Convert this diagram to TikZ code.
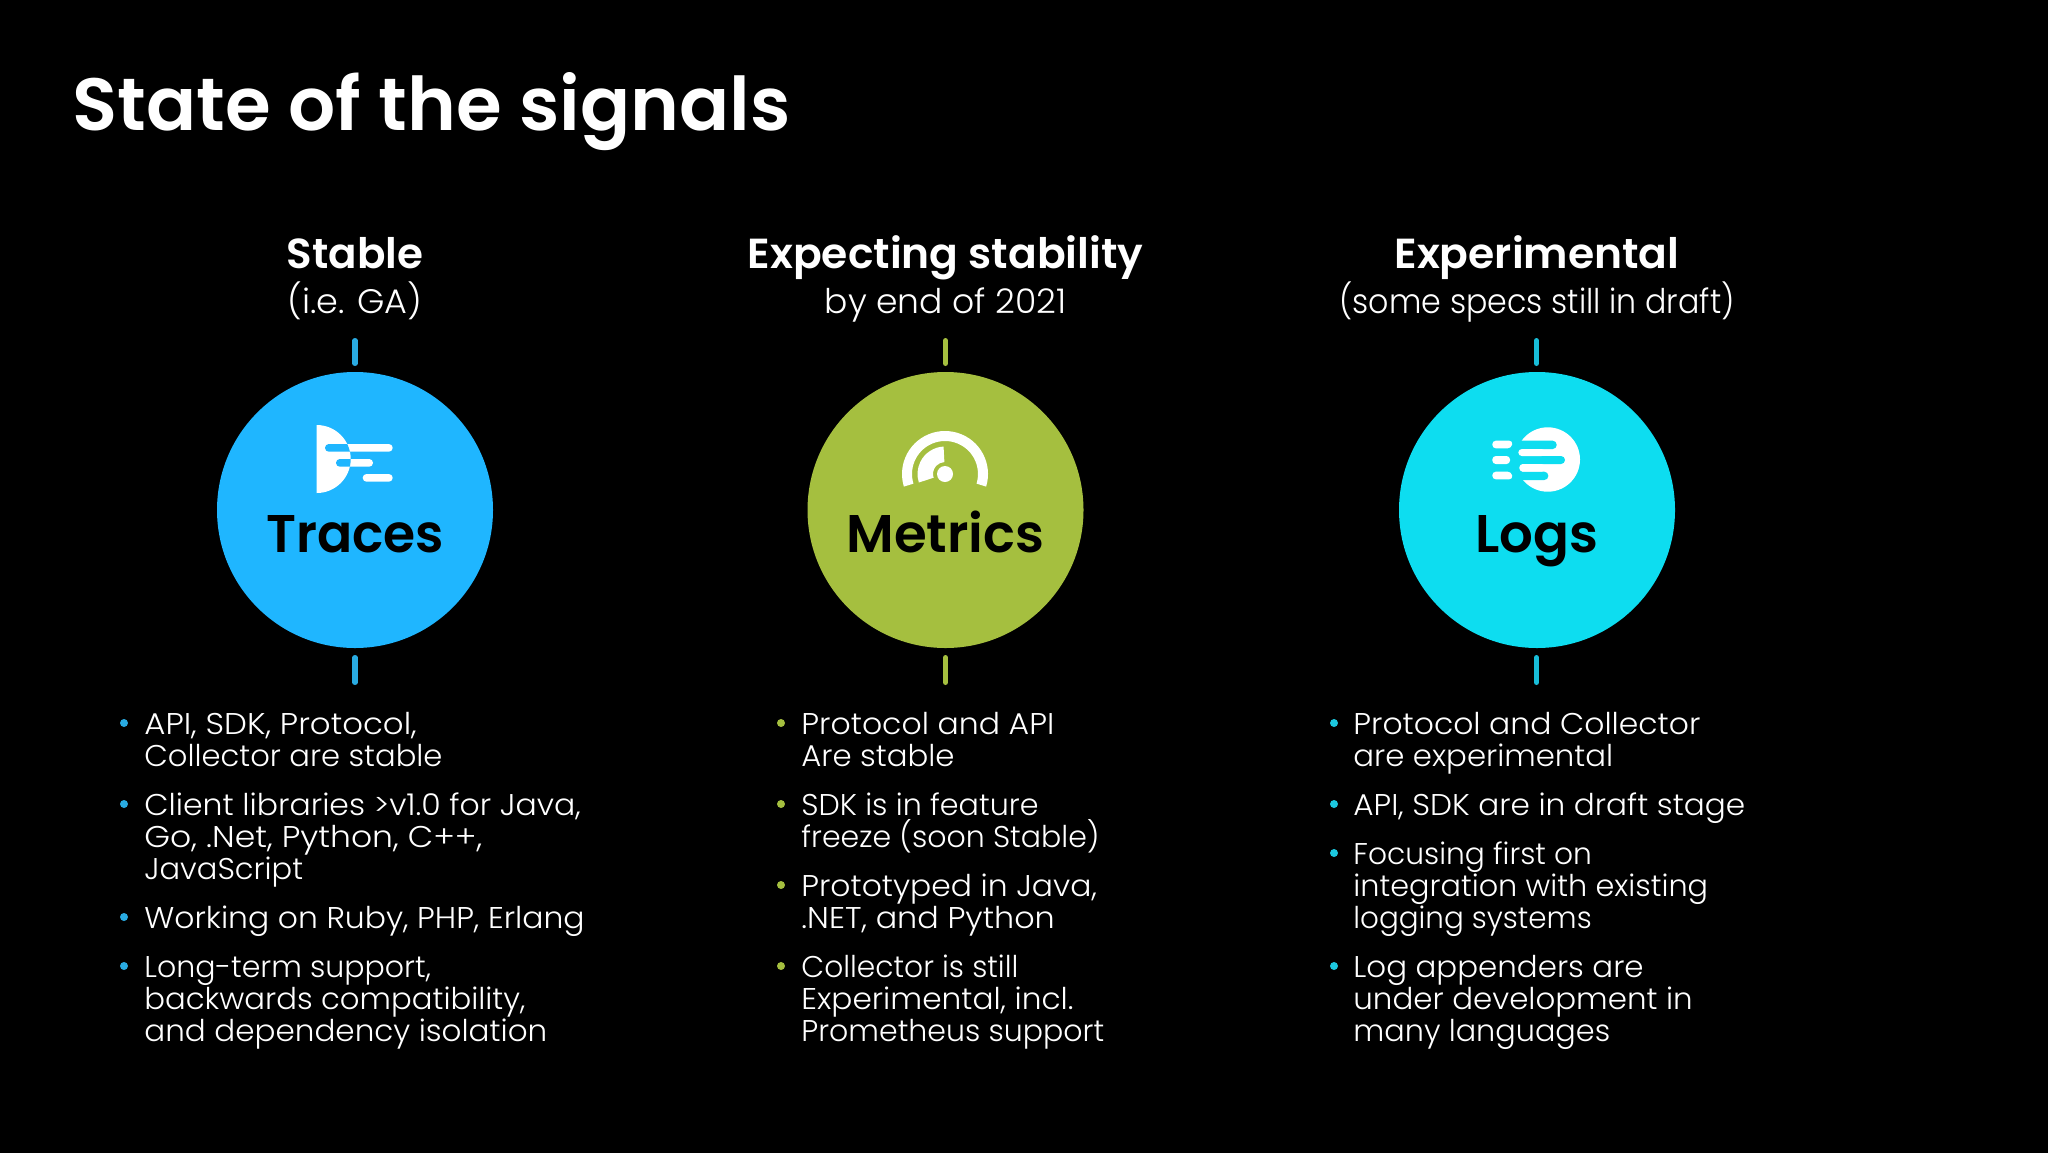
\documentclass[tikz,border=0pt]{standalone}
\usepackage{fontspec}
\setmainfont{Poppins Light}[BoldFont={Poppins SemiBold}]
\definecolor{tracesblue}{HTML}{1FB6FF}
\definecolor{metricsgreen}{HTML}{A5BF3F}
\definecolor{logscyan}{HTML}{0DDDF0}
\definecolor{bulblue}{HTML}{29ABE2}
\definecolor{bulcyan}{HTML}{1CC8E0}
\definecolor{logtick}{HTML}{18BDD8}
\tikzset{
  titletext/.style={anchor=base west,inner sep=0,text=white,font=\fontsize{37}{37}\selectfont\bfseries},
  headtext/.style={anchor=base,inner sep=0,text=white,font=\fontsize{21}{21}\selectfont\bfseries},
  subtext/.style={anchor=base,inner sep=0,text=white,font=\fontsize{17}{17}\selectfont},
  signal/.style={circle,inner sep=0,minimum size=138pt},
  signaltext/.style={anchor=base,inner sep=0,text=black,font=\fontsize{26.5}{26.5}\selectfont\bfseries},
  bulletline/.style={anchor=base west,inner sep=0,text=white,font=\fontsize{15}{16}\selectfont},
  dotmark/.style={circle,inner sep=0,minimum size=4pt},
  ticks/.style={line width=2.6pt,line cap=round},
}
\newcommand{\bul}[3]{\node[dotmark,fill=#1] at (#2,#3-11) {};}
\newcommand{\lin}[4]{\node[bulletline] at (#1,#2) {\scalebox{#3}[1]{#4}};}
\begin{document}
\begin{tikzpicture}[x=0.5pt,y=-0.5pt]
\useasboundingbox (0,0) rectangle (2048,1152);
\fill[black] (-6,-6) rectangle (2054,1158);
\node[titletext] (title) at (72,130) {State of the signals};

% headings
\node[headtext] (h1) at (355,268) {Stable};
\node[subtext] (s1) at (355,313) {\scalebox{1.03}[1]{(i.e. GA)}};
\node[headtext] (h2) at (945.5,268) {\scalebox{1.01}[1]{Expecting stability}};
\node[subtext] (s2) at (945.5,313) {\scalebox{1.016}[1]{by end of 2021}};
\node[headtext] (h3) at (1537,268) {\scalebox{1.01}[1]{Experimental}};
\node[subtext] (s3) at (1537,313) {\scalebox{0.932}[1]{(some specs still in draft)}};

% circles
\node[signal,fill=tracesblue] (traces) at (355,510) {};
\node[signal,fill=metricsgreen] (metrics) at (945.5,510) {};
\node[signal,fill=logscyan] (logs) at (1537,510) {};
\node[signaltext] (tracesl) at (355,552) {\scalebox{0.98}[1]{Traces}};
\node[signaltext] (metricsl) at (945.5,552) {Metrics};
\node[signaltext] (logsl) at (1537,552) {Logs};

% ticks
\draw[ticks,bulblue] (355,340.6) -- (355,363.4);
\draw[ticks,bulblue] (355,657.6) -- (355,682.4);
\draw[ticks,metricsgreen] (945.5,340.6) -- (945.5,363.4);
\draw[ticks,metricsgreen] (945.5,657.6) -- (945.5,682.4);
\draw[ticks,logtick] (1536.5,340.6) -- (1536.5,363.4);
\draw[ticks,logtick] (1536.5,657.6) -- (1536.5,682.4);

% traces icon
\begin{scope}
\fill[white] (316.7,425) arc[start angle=90,end angle=-90,x radius=34,y radius=-34] -- cycle;
\fill[white,rounded corners=1.9pt] (325,444) rectangle (392.7,451.7);
\fill[white,rounded corners=1.9pt] (336,459) rectangle (373,466.7);
\fill[white,rounded corners=1.9pt] (362.7,474) rectangle (392.7,481.7);
\clip (316.7,425) arc[start angle=90,end angle=-90,x radius=34,y radius=-34] -- cycle;
\fill[tracesblue,rounded corners=1.9pt] (325,444) rectangle (392.7,451.7);
\fill[tracesblue,rounded corners=1.9pt] (336,459) rectangle (373,466.7);
\end{scope}

% metrics icon
\fill[white] (945,474) circle[radius=8];
\fill[white] ({945+43*cos(-17)},{474+43*sin(17)}) arc[start angle=-17,end angle=197,x radius=43,y radius=-43]
  -- ({945+33*cos(197)},{474-33*sin(197)}) arc[start angle=197,end angle=-17,x radius=33,y radius=-33] -- cycle;
\fill[white] ({945+27.5*cos(93)},{474-27.5*sin(93)}) arc[start angle=93,end angle=198,x radius=27.5,y radius=-27.5]
  -- ({945+12*cos(198)},{474-12*sin(198)}) arc[start angle=198,end angle=93,x radius=12,y radius=-12] -- cycle;

% logs icon
\fill[white] (1547.8,459.5) circle[radius=32.2];
\fill[logscyan,rounded corners=2pt] (1490,440.7) rectangle (1556.7,449);
\fill[logscyan,rounded corners=2pt] (1490,456) rectangle (1565,464);
\fill[logscyan,rounded corners=2pt] (1490,471.7) rectangle (1548.3,480);
\fill[logscyan] (1510,449) rectangle (1522,471.7);
\fill[white,rounded corners=1.75pt] (1518.3,449) rectangle (1545,456);
\fill[white,rounded corners=1.75pt] (1519.3,464) rectangle (1545,471.7);
\fill[white,rounded corners=1.75pt] (1492.3,440.7) -- (1512.8,440.7) -- (1511.3,448.3) -- (1492.3,448.3) -- cycle;
\fill[white,rounded corners=1.75pt] (1492.3,456) -- (1510,456) -- (1510,464) -- (1492.3,464) -- cycle;
\fill[white,rounded corners=1.75pt] (1492.3,471.7) -- (1511.3,471.7) -- (1512.8,479.3) -- (1492.3,479.3) -- cycle;

% column 1
\bul{bulblue}{124}{734}\lin{144}{734}{1.08}{API, SDK, Protocol,}\lin{144}{766}{1.02}{Collector are stable}
\bul{bulblue}{124}{815}\lin{144}{815}{1.05}{Client libraries >v1.0 for Java,}\lin{144}{847}{1.10}{Go, .Net, Python, C++,}\lin{144}{879}{1.017}{JavaScript}
\bul{bulblue}{124}{928}\lin{144}{928}{1.047}{Working on Ruby, PHP, Erlang}
\bul{bulblue}{124}{977}\lin{144}{977}{1.0}{Long-term support,}\lin{144}{1009}{1.024}{backwards compatibility,}\lin{144}{1041}{1.034}{and dependency isolation}

% column 2
\bul{metricsgreen}{781}{734}\lin{801}{734}{1.05}{Protocol and API}\lin{801}{766}{1.026}{Are stable}
\bul{metricsgreen}{781}{815}\lin{801}{815}{1.005}{SDK is in feature}\lin{801}{847}{1.0}{freeze (soon Stable)}
\bul{metricsgreen}{781}{896}\lin{801}{896}{1.046}{Prototyped in Java,}\lin{801}{928}{1.06}{.NET, and Python}
\bul{metricsgreen}{781}{977}\lin{801}{977}{0.99}{Collector is still}\lin{801}{1009}{1.04}{Experimental, incl.}\lin{801}{1041}{1.0}{Prometheus support}

% column 3
\bul{bulcyan}{1334}{734}\lin{1353}{734}{1.047}{Protocol and Collector}\lin{1353}{766}{1.026}{are experimental}
\bul{bulcyan}{1334}{815}\lin{1353}{815}{1.038}{API, SDK are in draft stage}
\bul{bulcyan}{1334}{864}\lin{1353}{864}{0.99}{Focusing first on}\lin{1353}{896}{1.01}{integration with existing}\lin{1353}{928}{0.98}{logging systems}
\bul{bulcyan}{1334}{977}\lin{1353}{977}{1.03}{Log appenders are}\lin{1353}{1009}{1.03}{under development in}\lin{1353}{1041}{1.01}{many languages}
\end{tikzpicture}
\end{document}
